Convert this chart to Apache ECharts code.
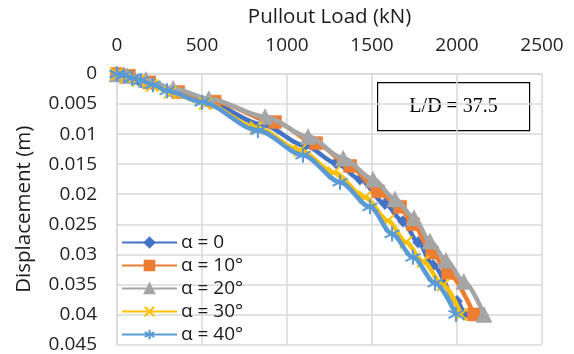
<!DOCTYPE html>
<html><head><meta charset="utf-8">
<script src="https://cdn.jsdelivr.net/npm/echarts@6/dist/echarts.min.js"></script>
<style>html,body{margin:0;padding:0;background:#fff}#c{width:574px;height:354px}</style>
</head><body><div id="c"></div>
<script>
var seriesNames = ['α = 0', 'α = 10°', 'α = 20°', 'α = 30°', 'α = 40°'];
var colors = ['#4472C4', '#ED7D31', '#A5A5A5', '#FFC000', '#5B9BD5'];
var xTicks = [0, 500, 1000, 1500, 2000, 2500];
var yTicks = [0, 0.005, 0.01, 0.015, 0.02, 0.025, 0.03, 0.035, 0.04, 0.045];
var annotation = 'L/D = 37.5';

var load0 = [0, 53, 124, 212, 324, 547, 853, 1106, 1288, 1429, 1576, 1682, 1771, 1859, 2000, 2041];
var disp0 = [0, 0.0004, 0.001, 0.0018, 0.0029, 0.0049, 0.0084, 0.0119, 0.0148, 0.0175, 0.0216, 0.0245, 0.028, 0.0318, 0.0378, 0.04];
var load10 = [0, 70, 190, 360, 575, 929, 1171, 1371, 1535, 1665, 1741, 1853, 1947, 2100];
var disp10 = [0, 0.0003, 0.0014, 0.003, 0.0046, 0.008, 0.0115, 0.0153, 0.0195, 0.0221, 0.025, 0.0297, 0.0331, 0.04];
var load20 = [0, 60, 170, 330, 540, 871, 1124, 1330, 1506, 1635, 1747, 1841, 1935, 2040, 2159];
var disp20 = [0, 0.0003, 0.0009, 0.0024, 0.0041, 0.0071, 0.0104, 0.014, 0.0175, 0.0208, 0.0239, 0.0278, 0.031, 0.0345, 0.04];
var load30 = [0, 53, 124, 206, 312, 518, 818, 1076, 1276, 1459, 1594, 1700, 1800, 1918, 2024];
var disp30 = [0, 0.0005, 0.0011, 0.0019, 0.0031, 0.0049, 0.0089, 0.0127, 0.0164, 0.0205, 0.0244, 0.028, 0.0312, 0.0351, 0.04];
var load40 = [0, 41, 88, 141, 212, 294, 500, 829, 1094, 1312, 1488, 1618, 1741, 1871, 1994];
var disp40 = [0, 0.0002, 0.0007, 0.0011, 0.0018, 0.0028, 0.0047, 0.0094, 0.0135, 0.018, 0.0221, 0.0266, 0.0305, 0.0348, 0.04];

var loads = [load0, load10, load20, load30, load40];
var disps = [disp0, disp10, disp20, disp30, disp40];

var FONT = '"Open Sans", sans-serif';
var symbols = [
  'diamond',
  'rect',
  'triangle',
  'path://M0,0L10,10M10,0L0,10',
  'path://M5,0L5,10M0.67,2.5L9.33,7.5M9.33,2.5L0.67,7.5'
];
var symSizes = [[11, 12], 13, 16, 12, 15];

function pairs(a, b) { var r = []; for (var i = 0; i < a.length; i++) r.push([a[i], b[i]]); return r; }

var series = seriesNames.map(function (n, i) {
  var stroked = i >= 3;
  return {
    name: n, type: 'line', data: pairs(loads[i], disps[i]),
    symbol: symbols[i], symbolSize: symSizes[i], showSymbol: true,
    smooth: 0.3, smoothMonotone: 'x',
    lineStyle: { color: colors[i], width: 4.5 },
    itemStyle: stroked ? { color: colors[i], borderColor: colors[i], borderWidth: 2 } : { color: colors[i], borderColor: colors[i], borderWidth: 0.5 },
    z: 2 + i, animation: false
  };
});

var chart = echarts.init(document.getElementById('c'), null, { renderer: 'canvas' });
chart.setOption({
  animation: false,
  backgroundColor: '#ffffff',
  grid: { left: 117, right: 32, top: 74, bottom: 3, containLabel: false },
  xAxis: {
    type: 'value', position: 'top', min: xTicks[0], max: xTicks[xTicks.length - 1], interval: 500,
    name: 'Pullout Load (kN)', nameLocation: 'middle', nameGap: 46,
    nameTextStyle: { fontFamily: FONT, fontSize: 20.5, color: '#1a1a1a' },
    axisLine: { show: true, lineStyle: { color: '#d9d9d9', width: 1.5 } },
    axisTick: { show: false },
    axisLabel: { fontFamily: FONT, fontSize: 19, color: '#222', margin: 19,
      formatter: function (v) { return String(v); } },
    splitLine: { show: true, lineStyle: { color: '#d9d9d9', width: 1.5 } }
  },
  yAxis: {
    type: 'value', inverse: true, min: yTicks[0], max: yTicks[yTicks.length - 1], interval: 0.005,
    name: 'Displacement (m)', nameLocation: 'middle', nameGap: 82,
    nameTextStyle: { fontFamily: FONT, fontSize: 20.5, color: '#1a1a1a' },
    axisLine: { show: true, lineStyle: { color: '#d9d9d9', width: 1.5 } },
    axisTick: { show: false },
    axisLabel: { fontFamily: FONT, fontSize: 19, color: '#222', margin: 20,
      formatter: function (v) { return String(+v.toFixed(3)); } },
    splitLine: { show: true, lineStyle: { color: '#d9d9d9', width: 1.5 } }
  },
  legend: {
    orient: 'vertical', left: 121, top: 233, padding: 0, itemGap: 4,
    itemWidth: 55, itemHeight: 12,
    textStyle: { fontFamily: FONT, fontSize: 19, color: '#1a1a1a', padding: [0, 0, 0, -1] },
    data: seriesNames
  },
  graphic: [{
    type: 'group', left: 377, top: 82, children: [
      { type: 'rect', shape: { x: 0, y: 0, width: 152, height: 48 }, style: { fill: '#fff', stroke: '#000', lineWidth: 1.2 } },
      { type: 'text', x: 76, y: 24, style: { text: annotation, font: '20px "Liberation Serif", serif', fill: '#000', textAlign: 'center', textVerticalAlign: 'middle' } }
    ]
  }],
  series: series
});
</script></body></html>
